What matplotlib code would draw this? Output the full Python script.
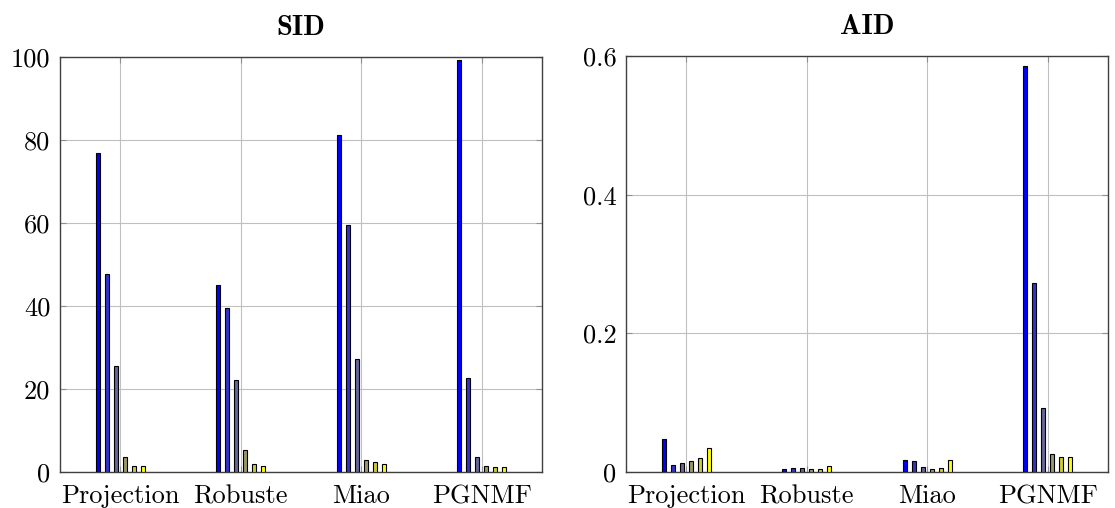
import matplotlib
matplotlib.use('Agg')
import matplotlib.pyplot as plt
import numpy as np

plt.rcParams['font.family'] = ['cmr10', 'DejaVu Serif']
plt.rcParams['axes.formatter.use_mathtext'] = True

# 数据
methods = ['Projection', 'Robuste', 'Miao', 'PGNMF']
sid = [
    [76.9, 47.7, 25.6, 3.6, 1.4, 1.4],
    [45.0, 39.6, 22.2, 5.2, 1.9, 1.4],
    [81.1, 59.6, 27.3, 2.8, 2.3, 1.9],
    [99.2, 22.6, 3.5, 1.5, 1.2, 1.2],
]
aid = [
    [0.047, 0.010, 0.0125, 0.0155, 0.020, 0.035],
    [0.0048, 0.0058, 0.0062, 0.0043, 0.0038, 0.0082],
    [0.0178, 0.0159, 0.0068, 0.0048, 0.0062, 0.0169],
    [0.586, 0.272, 0.092, 0.026, 0.022, 0.022],
]
sid_ticks = [0, 20, 40, 60, 80, 100]
sid_labels = ['0', '20', '40', '60', '80', '100']
aid_ticks = [0, 0.2, 0.4, 0.6]
aid_labels = ['0', '0.2', '0.4', '0.6']

# 颜色：蓝色到黄色
colors = [(0, 0, 1), (0.2, 0.2, 0.8), (0.4, 0.4, 0.6),
          (0.6, 0.6, 0.4), (0.8, 0.8, 0.2), (1, 1, 0)]

fig = plt.figure(figsize=(11.15, 5.08), dpi=100)
ax1 = fig.add_axes([60 / 1115, 36 / 508, 482 / 1115, 415 / 508])
ax2 = fig.add_axes([626 / 1115, 36 / 508, 482 / 1115, 416 / 508])


def draw(ax, values, ticks, labels, ymax, title):
    values = np.array(values)
    x = np.arange(len(methods))
    step = 0.0746
    for i in range(values.shape[1]):
        ax.bar(x + (i - 2.5) * step, values[:, i], width=0.031,
               color=colors[i], edgecolor='black', linewidth=0.8, zorder=3)
    ax.set_xlim(-0.5, 3.5)
    ax.set_ylim(0, ymax)
    ax.set_xticks(x)
    ax.set_xticklabels(methods, fontsize=19)
    ax.set_yticks(ticks)
    ax.set_yticklabels(labels, fontsize=19)
    ax.grid(True, color='#c0c0c0', linewidth=0.8, zorder=0)
    ax.tick_params(direction='in', length=4, color='#909090',
                   top=True, right=True, pad=7)
    ax.tick_params(axis='x', pad=9)
    for s in ax.spines.values():
        s.set_color('#404040')
        s.set_linewidth(1.0)
    ax.set_title(title, family='cmb10', fontsize=20.5, pad=16)


draw(ax1, sid, sid_ticks, sid_labels, 100, 'SID')
draw(ax2, aid, aid_ticks, aid_labels, 0.6, 'AID')

fig.savefig('out.png', dpi=100)
